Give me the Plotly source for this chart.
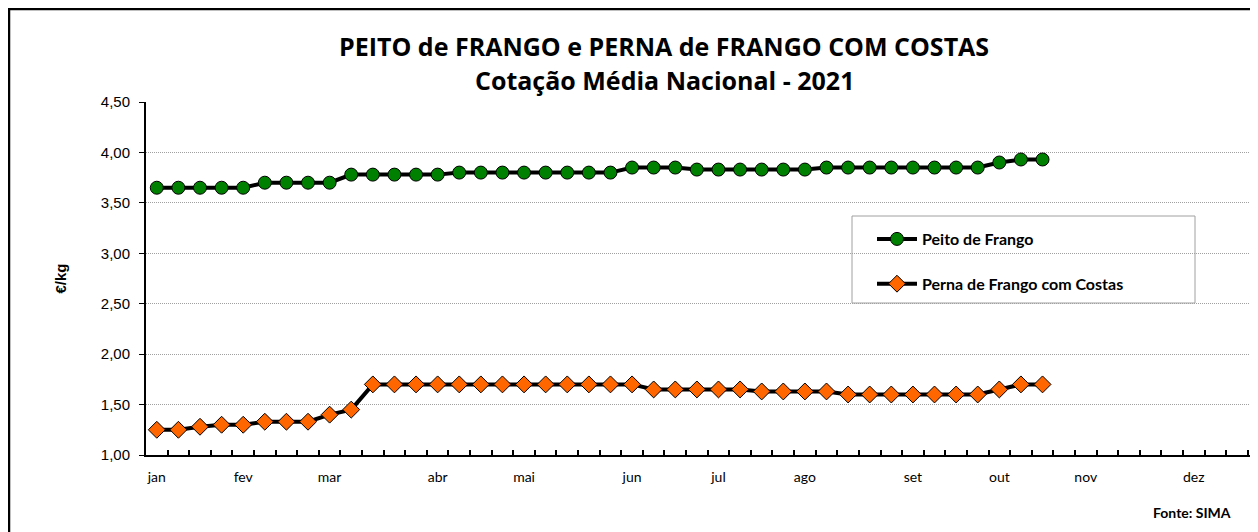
import plotly.graph_objects as go
import numpy as np

# ---- data ----
month_labels = ["jan", "fev", "mar", "abr", "mai", "jun", "jul", "ago", "set", "out", "nov", "dez"]
month_week_index = [0, 4, 8, 13, 17, 22, 26, 30, 35, 39, 43, 48]
weeks = list(range(42))

peito = [3.65, 3.65, 3.65, 3.65, 3.65,
         3.70, 3.70, 3.70, 3.70,
         3.78, 3.78, 3.78, 3.78, 3.78,
         3.80, 3.80, 3.80, 3.80, 3.80, 3.80, 3.80, 3.80,
         3.85, 3.85, 3.85,
         3.83, 3.83, 3.83, 3.83, 3.83, 3.83,
         3.85, 3.85, 3.85, 3.85, 3.85, 3.85, 3.85, 3.85,
         3.90, 3.93, 3.93]
perna = [1.25, 1.25, 1.28, 1.30, 1.30, 1.33, 1.33, 1.33, 1.40, 1.45,
         1.70, 1.70, 1.70, 1.70, 1.70, 1.70, 1.70, 1.70, 1.70, 1.70, 1.70, 1.70, 1.70,
         1.65, 1.65, 1.65, 1.65, 1.65,
         1.63, 1.63, 1.63, 1.63,
         1.60, 1.60, 1.60, 1.60, 1.60, 1.60, 1.60,
         1.65, 1.70, 1.70]

OFF = 8  # page body margin
W, H = 1258 - OFF, 532 - OFF
L, T = 146 - OFF, 102 - OFF
R = W - (1251 - OFF)
B = H - (455 - OFF)
pw, ph = W - L - R, H - T - B

def px(x):
    return (x - OFF - L) / pw

def py(y):
    return (H - B - (y - OFF)) / ph

fig = go.Figure()
fig.add_trace(go.Scatter(
    x=weeks, y=peito, name="Peito de Frango", mode="lines+markers",
    line=dict(color="black", width=4),
    marker=dict(symbol="circle", size=13, color="#008000", line=dict(color="black", width=1)),
    legendgroup="a"))
fig.add_trace(go.Scatter(
    x=weeks, y=perna, name="Perna de Frango com Costas", mode="lines+markers",
    line=dict(color="black", width=4),
    marker=dict(symbol="diamond", size=13, color="#FF6600", line=dict(color="black", width=1)),
    legendgroup="b"))

calibri = "Lato, Open Sans, sans-serif"

fig.update_layout(
    width=W, height=H,
    margin=dict(l=L, r=R, t=T, b=B),
    paper_bgcolor="white", plot_bgcolor="white",
    separators=",.",
    showlegend=True,
    legend=dict(x=px(872), y=py(222), xanchor="left", yanchor="top",
                bgcolor="rgba(0,0,0,0)", borderwidth=0,
                font=dict(family=calibri, size=16, color="black", weight="bold"),
                tracegroupgap=21, itemwidth=40),
    xaxis=dict(range=[-0.5, 50.65], tickmode="array", tickvals=month_week_index,
               ticktext=month_labels, ticks="", showgrid=False, zeroline=False,
               showline=True, linecolor="black", linewidth=2, ticklabelstandoff=8,
               tickfont=dict(family=calibri, size=14, color="black"),
               minor=dict(tickmode="array", tickvals=list(np.arange(0.5, 51, 1.0)),
                          ticks="inside", ticklen=5, tickcolor="black", tickwidth=1.5,
                          showgrid=False)),
    yaxis=dict(range=[1, 4.5], tickmode="linear", tick0=1, dtick=0.5, tickformat=".2f",
               ticks="outside", ticklen=5, tickcolor="black", ticklabelstandoff=6,
               showgrid=True, gridcolor="#a0a0a0", griddash="1px,1px", gridwidth=1,
               zeroline=False, showline=True, linecolor="black", linewidth=2,
               tickfont=dict(family="Liberation Sans, Arial", size=15, color="black"),
               title=dict(text="<b>€/kg</b>", font=dict(family="Liberation Sans, Arial", size=15, color="black"),
                          standoff=31)),
)

# outer border
fig.add_shape(type="rect", xref="paper", yref="paper",
              x0=px(9), x1=px(1266), y0=py(9), y1=py(540),
              line=dict(color="black", width=2.5), fillcolor="rgba(0,0,0,0)", layer="below")
# legend box
fig.add_shape(type="rect", xref="paper", yref="paper",
              x0=px(852), x1=px(1195), y0=py(303), y1=py(216),
              line=dict(color="#a0a0a0", width=1), fillcolor="white", layer="below")

fig.add_annotation(x=px(664), y=py(46), xref="paper", yref="paper", showarrow=False,
                   text="<b>PEITO de FRANGO e PERNA de FRANGO COM COSTAS</b>",
                   font=dict(family="Open Sans", size=25, color="black"), xanchor="center", yanchor="middle")
fig.add_annotation(x=px(664), y=py(80), xref="paper", yref="paper", showarrow=False,
                   text="<b>Cotação Média Nacional - 2021</b>",
                   font=dict(family="Open Sans", size=25, color="black"), xanchor="center", yanchor="middle")
fig.add_annotation(x=px(1233), y=py(512), xref="paper", yref="paper", showarrow=False,
                   text="<b>Fonte: SIMA</b>",
                   font=dict(family=calibri, size=14, color="black"), xanchor="right", yanchor="middle")

fig.write_html("out.html")
